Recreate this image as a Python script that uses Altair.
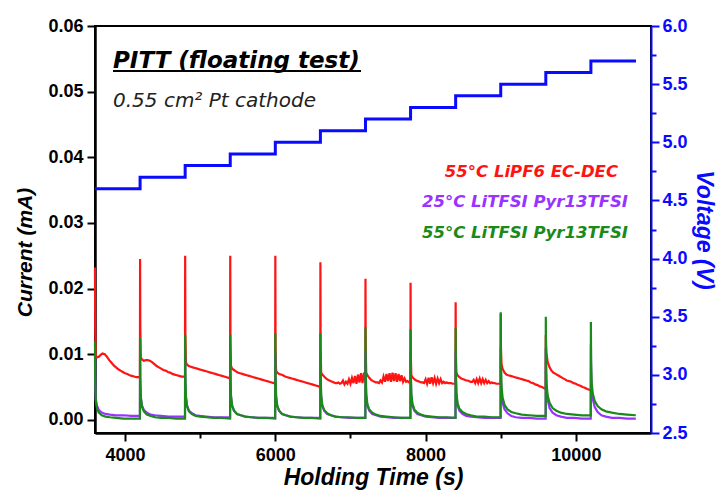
import altair as alt
import pandas as pd

# ---------------- data ----------------
red_starts = [3600, 4200, 4800, 5400, 6000, 6600, 7200, 7800, 8400, 9000, 9600]
red_grid = ["c", "c", "c", "c", "c", "f", "f", "f", "f", "c", "c"]
red_offsets_c = [0, 3, 10, 25, 50, 75, 100, 130, 160, 190, 220, 250, 280, 310, 340,
                 370, 400, 430, 460, 490, 520, 550, 580, 598]
red_offsets_f = [0, 3, 10, 25, 50, 75, 100, 120, 140, 160, 180, 200, 220, 240, 260, 280,
                 300, 320, 340, 360, 380, 400, 420, 440, 460, 480, 500, 520, 540, 560, 580, 598]
red_values = [
    [0.0232, 0.0140, 0.0098, 0.0095, 0.0096, 0.0099, 0.0101, 0.0100, 0.0096, 0.0091, 0.0087, 0.0083,
     0.0080, 0.0077, 0.0075, 0.0073, 0.0071, 0.0070, 0.0068, 0.0067, 0.0066, 0.0065, 0.0065, 0.0064],
    [0.0245, 0.0140, 0.0095, 0.0092, 0.0090, 0.0091, 0.0091, 0.0090, 0.0088, 0.0085, 0.0082, 0.0080,
     0.0078, 0.0076, 0.0075, 0.0073, 0.0072, 0.0070, 0.0069, 0.0068, 0.0067, 0.0066, 0.0066, 0.0065],
    [0.0250, 0.0130, 0.0088, 0.0084, 0.0082, 0.0081, 0.0080, 0.0079, 0.0078, 0.0077, 0.0076, 0.0075,
     0.0074, 0.0073, 0.0072, 0.0071, 0.0070, 0.0069, 0.0068, 0.0067, 0.0066, 0.0065, 0.0064, 0.0063],
    [0.0250, 0.0120, 0.0082, 0.0078, 0.0076, 0.0074, 0.0072, 0.0071, 0.0070, 0.0069, 0.0068, 0.0067,
     0.0066, 0.0065, 0.0064, 0.0063, 0.0062, 0.0061, 0.0060, 0.0059, 0.0058, 0.0057, 0.0056, 0.0055],
    [0.0250, 0.0110, 0.0075, 0.0072, 0.0070, 0.0069, 0.0068, 0.0066, 0.0065, 0.0064, 0.0063, 0.0062,
     0.0061, 0.0060, 0.0059, 0.0058, 0.0057, 0.0056, 0.0055, 0.0054, 0.0053, 0.0052, 0.0051, 0.0050],
    [0.0240, 0.0110, 0.0072, 0.0069, 0.0066, 0.0063, 0.0061, 0.0060, 0.0059, 0.0058, 0.0057, 0.0056,
     0.0056, 0.0057, 0.0055, 0.0056, 0.0060, 0.0054, 0.0058, 0.0055, 0.0062, 0.0055, 0.0064, 0.0056,
     0.0067, 0.0055, 0.0069, 0.0057, 0.0071, 0.0056, 0.0072, 0.0058],
    [0.0215, 0.0110, 0.0072, 0.0068, 0.0064, 0.0061, 0.0059, 0.0058, 0.0057, 0.0057, 0.0056, 0.0060,
     0.0057, 0.0066, 0.0058, 0.0070, 0.0059, 0.0071, 0.0058, 0.0072, 0.0059, 0.0071, 0.0058, 0.0070,
     0.0059, 0.0068, 0.0058, 0.0063, 0.0058, 0.0059, 0.0057, 0.0057],
    [0.0209, 0.0100, 0.0068, 0.0065, 0.0062, 0.0060, 0.0059, 0.0058, 0.0057, 0.0057, 0.0056, 0.0062,
     0.0055, 0.0064, 0.0055, 0.0065, 0.0056, 0.0064, 0.0055, 0.0063, 0.0056, 0.0062, 0.0056, 0.0058,
     0.0056, 0.0057, 0.0056, 0.0056, 0.0056, 0.0055, 0.0055, 0.0055],
    [0.0179, 0.0100, 0.0072, 0.0068, 0.0065, 0.0063, 0.0062, 0.0061, 0.0060, 0.0060, 0.0059, 0.0058,
     0.0058, 0.0061, 0.0056, 0.0062, 0.0056, 0.0063, 0.0056, 0.0062, 0.0056, 0.0061, 0.0056, 0.0059,
     0.0056, 0.0057, 0.0056, 0.0056, 0.0055, 0.0055, 0.0055, 0.0055],
    [0.0162, 0.0110, 0.0085, 0.0078, 0.0072, 0.0069, 0.0068, 0.0067, 0.0066, 0.0065, 0.0064, 0.0063,
     0.0062, 0.0061, 0.0060, 0.0059, 0.0057, 0.0056, 0.0054, 0.0053, 0.0051, 0.0050, 0.0048, 0.0047],
    [0.0129, 0.0115, 0.0100, 0.0088, 0.0080, 0.0075, 0.0072, 0.0070, 0.0068, 0.0066, 0.0064, 0.0062,
     0.0060, 0.0059, 0.0058, 0.0056, 0.0055, 0.0053, 0.0052, 0.0050, 0.0049, 0.0047, 0.0046, 0.0045],
]

il_starts = [3600, 4200, 4800, 5400, 6000, 6600, 7200, 7800, 8400, 9000, 9600, 10200]
il_offsets = [0, 3, 10, 25, 50, 90, 140, 200, 280, 380, 480, 598]
green_values = [
    [0.0120, 0.0060, 0.0030, 0.0018, 0.0011, 0.0007, 0.0005, 0.0004, 0.0003, 0.0002, 0.0002, 0.0002],
    [0.0125, 0.0065, 0.0035, 0.0020, 0.0013, 0.0008, 0.0006, 0.0004, 0.0003, 0.0003, 0.0002, 0.0002],
    [0.0130, 0.0068, 0.0036, 0.0021, 0.0013, 0.0009, 0.0006, 0.0005, 0.0004, 0.0003, 0.0003, 0.0002],
    [0.0130, 0.0070, 0.0037, 0.0022, 0.0014, 0.0009, 0.0007, 0.0005, 0.0004, 0.0003, 0.0003, 0.0002],
    [0.0132, 0.0070, 0.0037, 0.0022, 0.0014, 0.0009, 0.0007, 0.0005, 0.0004, 0.0003, 0.0003, 0.0002],
    [0.0132, 0.0072, 0.0038, 0.0023, 0.0015, 0.0010, 0.0007, 0.0005, 0.0004, 0.0004, 0.0003, 0.0003],
    [0.0141, 0.0075, 0.0040, 0.0024, 0.0016, 0.0011, 0.0008, 0.0006, 0.0005, 0.0004, 0.0003, 0.0003],
    [0.0138, 0.0075, 0.0040, 0.0025, 0.0016, 0.0011, 0.0008, 0.0006, 0.0005, 0.0004, 0.0004, 0.0003],
    [0.0140, 0.0078, 0.0042, 0.0026, 0.0017, 0.0012, 0.0009, 0.0007, 0.0005, 0.0005, 0.0004, 0.0004],
    [0.0164, 0.0090, 0.0052, 0.0034, 0.0023, 0.0016, 0.0012, 0.0010, 0.0008, 0.0007, 0.0006, 0.0006],
    [0.0157, 0.0092, 0.0055, 0.0037, 0.0026, 0.0018, 0.0014, 0.0011, 0.0009, 0.0008, 0.0007, 0.0007],
    [0.0149, 0.0090, 0.0058, 0.0040, 0.0029, 0.0021, 0.0016, 0.0013, 0.0011, 0.0009, 0.0008, 0.0007],
]
purple_values = [
    [0.0100, 0.0055, 0.0032, 0.0022, 0.0015, 0.0011, 0.0009, 0.0008, 0.0007, 0.0007, 0.0006, 0.0006],
    [0.0095, 0.0055, 0.0033, 0.0022, 0.0015, 0.0011, 0.0008, 0.0007, 0.0006, 0.0005, 0.0005, 0.0005],
    [0.0100, 0.0060, 0.0034, 0.0022, 0.0014, 0.0010, 0.0007, 0.0006, 0.0005, 0.0004, 0.0004, 0.0004],
    [0.0100, 0.0062, 0.0035, 0.0021, 0.0014, 0.0009, 0.0007, 0.0005, 0.0004, 0.0003, 0.0003, 0.0003],
    [0.0100, 0.0062, 0.0035, 0.0021, 0.0014, 0.0009, 0.0007, 0.0005, 0.0004, 0.0003, 0.0003, 0.0003],
    [0.0100, 0.0062, 0.0035, 0.0021, 0.0014, 0.0009, 0.0007, 0.0005, 0.0004, 0.0003, 0.0003, 0.0003],
    [0.0105, 0.0064, 0.0036, 0.0022, 0.0014, 0.0009, 0.0007, 0.0005, 0.0004, 0.0003, 0.0003, 0.0003],
    [0.0105, 0.0064, 0.0036, 0.0022, 0.0014, 0.0009, 0.0007, 0.0005, 0.0004, 0.0003, 0.0003, 0.0003],
    [0.0105, 0.0066, 0.0037, 0.0022, 0.0014, 0.0009, 0.0006, 0.0005, 0.0004, 0.0003, 0.0003, 0.0003],
    [0.0110, 0.0070, 0.0040, 0.0026, 0.0016, 0.0010, 0.0006, 0.0004, 0.0003, 0.0003, 0.0002, 0.0002],
    [0.0110, 0.0075, 0.0045, 0.0030, 0.0018, 0.0011, 0.0007, 0.0005, 0.0003, 0.0003, 0.0002, 0.0002],
    [0.0115, 0.0078, 0.0048, 0.0032, 0.0020, 0.0012, 0.0007, 0.0005, 0.0003, 0.0003, 0.0002, 0.0002],
]

volt_times = [3600, 4200, 4800, 5400, 6000, 6600, 7200, 7800, 8400, 9000, 9600, 10200, 10800]
volt_values = [4.6, 4.7, 4.8, 4.9, 5.0, 5.1, 5.2, 5.3, 5.4, 5.5, 5.6, 5.7, 5.7]

x_ticks = [4000, 5000, 6000, 7000, 8000, 9000, 10000]
y_ticks = [0, 0.005, 0.01, 0.015, 0.02, 0.025, 0.03, 0.035, 0.04, 0.045, 0.05, 0.055, 0.06]
v_ticks = [2.5, 2.75, 3.0, 3.25, 3.5, 3.75, 4.0, 4.25, 4.5, 4.75, 5.0, 5.25, 5.5, 5.75, 6.0]

RED, PURPLE, GREEN, BLUE = "#ff1414", "#9933ff", "#1a8a1a", "#0a0aff"
FONT = "Liberation Sans"
TFONT = "DejaVu Sans"


def build(starts, offsets_list, values):
    rows = []
    for s, offs, vals in zip(starts, offsets_list, values):
        for o, v in zip(offs, vals):
            rows.append({"t": s + o, "i": v})
    return pd.DataFrame(rows)


grid_map = {"c": red_offsets_c, "f": red_offsets_f}
red_df = build(red_starts, [grid_map[g] for g in red_grid], red_values)
green_df = build(il_starts, [il_offsets] * len(il_starts), green_values)
purple_df = build(il_starts, [il_offsets] * len(il_starts), purple_values)
volt_df = pd.DataFrame({"t": volt_times, "v": volt_values})

# ---------------- scales / axes ----------------
x_scale = alt.Scale(domain=[3600, 11000], nice=False, zero=False)
y_scale = alt.Scale(domain=[-0.002, 0.06], nice=False, zero=False)
v_scale = alt.Scale(domain=[2.5, 6.0], nice=False, zero=False)

x_axis = alt.Axis(
    title="Holding Time (s)", values=x_ticks,
    labelExpr="datum.value % 2000 == 0 ? format(datum.value, 'd') : ''",
    tickSize={"condition": {"test": "datum.value % 2000 != 0", "value": 5}, "value": 8},
    labelFont=FONT, labelFontSize=18, labelFontWeight="bold", labelColor="black",
    titleFont=FONT, titleFontSize=23, titleFontWeight="bold", titleFontStyle="italic",
    titleColor="black", titlePadding=2, labelPadding=5,
    domainColor="black", domainWidth=2.5, tickColor="black", tickWidth=2, grid=False,
)
y_axis = alt.Axis(
    title="Current (mA)", values=y_ticks, orient="left",
    labelExpr="round(datum.value*1000) % 10 == 0 ? format(datum.value, '.2f') : ''",
    tickSize={"condition": {"test": "round(datum.value*1000) % 10 != 0", "value": 5}, "value": 8},
    labelFont=FONT, labelFontSize=18, labelFontWeight="bold", labelColor="black",
    titleFont=FONT, titleFontSize=21, titleFontWeight="bold", titleFontStyle="italic",
    titleColor="black", titlePadding=12, labelPadding=4, titleY=226,
    domainColor="black", domainWidth=2.5, tickColor="black", tickWidth=2, grid=False,
)
v_axis = alt.Axis(
    title="Voltage (V)", values=v_ticks, orient="right",
    labelExpr="round(datum.value*100) % 50 == 0 ? format(datum.value, '.1f') : ''",
    tickSize={"condition": {"test": "round(datum.value*100) % 50 != 0", "value": 5}, "value": 8},
    labelFont=FONT, labelFontSize=18, labelFontWeight="bold", labelColor=BLUE,
    titleFont=FONT, titleFontSize=23, titleFontWeight="bold", titleFontStyle="italic",
    titleColor=BLUE, titlePadding=4, labelPadding=3,
    domainColor=BLUE, domainWidth=2, tickColor=BLUE, tickWidth=2, grid=False,
)

x_enc = alt.X("t:Q", scale=x_scale, axis=x_axis)

red = alt.Chart(red_df).mark_line(color=RED, strokeWidth=2.2).encode(
    x=x_enc, y=alt.Y("i:Q", scale=y_scale, axis=y_axis))
purple = alt.Chart(purple_df).mark_line(color=PURPLE, strokeWidth=2.2).encode(
    x=alt.X("t:Q", scale=x_scale), y=alt.Y("i:Q", scale=y_scale))
green = alt.Chart(green_df).mark_line(color=GREEN, strokeWidth=2.2).encode(
    x=alt.X("t:Q", scale=x_scale), y=alt.Y("i:Q", scale=y_scale))

current = alt.layer(red, purple, green)

volt = alt.Chart(volt_df).mark_line(color=BLUE, strokeWidth=3, interpolate="step-after").encode(
    x=alt.X("t:Q", scale=x_scale), y=alt.Y("v:Q", scale=v_scale, axis=v_axis))


def label(text, x, y, size, color, weight="bold", style="italic", align="left"):
    return alt.Chart(pd.DataFrame({"s": [text]})).mark_text(
        font=TFONT, fontSize=size, fontWeight=weight, fontStyle=style, color=color,
        align=align, baseline="alphabetic",
    ).encode(x=alt.value(x), y=alt.value(y), text="s:N")


title1 = label("PITT (floating test)", 18, 42, 23, "black")
underline = alt.Chart(pd.DataFrame({"a": [0]})).mark_rule(color="black", strokeWidth=2).encode(
    x=alt.value(18), x2=alt.value(266), y=alt.value(45))
title2 = label("0.55 cm² Pt cathode", 18, 81, 20, "#222222", weight="normal")
leg1 = label("55°C LiPF6 EC-DEC", 523, 151, 16.5, RED, align="right")
leg2 = label("25°C LiTFSI Pyr13TFSI", 533, 181, 16.5, PURPLE, align="right")
leg3 = label("55°C LiTFSI Pyr13TFSI", 533, 212, 16.5, GREEN, align="right")

annot = alt.layer(title1, underline, title2, leg1, leg2, leg3)

chart = alt.layer(current, volt, annot).resolve_scale(y="independent").properties(
    width=556, height=407,
    autosize=alt.AutoSizeParams(type="none"),
    padding={"left": 95, "top": 26, "right": 68, "bottom": 62},
    background="white",
).configure_view(stroke="black", strokeWidth=2)

chart.save("out.html", embed_options={"renderer": "svg", "actions": False})
